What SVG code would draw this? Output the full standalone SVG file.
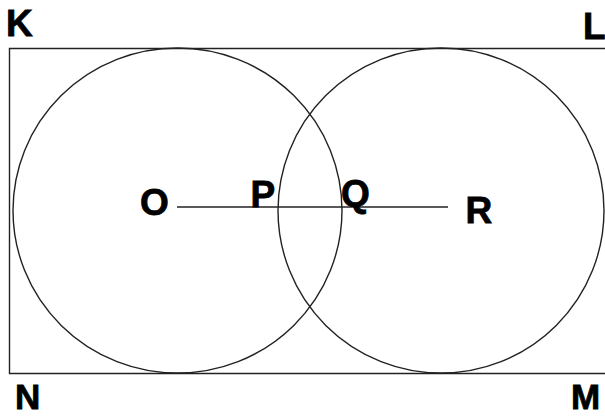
<svg xmlns="http://www.w3.org/2000/svg" width="605" height="416" viewBox="0 0 605 416">
<style>
.ln{fill:none;stroke:#222;stroke-width:1.4}
.lb{font-family:"Liberation Sans",Arial,sans-serif;font-weight:bold;font-size:37px;fill:#000;stroke:#000;stroke-width:0.8}
.sm{font-size:35px}
</style>
<rect width="605" height="416" fill="#fff"/>
<g id="rectangle">
<path class="ln" d="M610,48.5 H9.5 V373.5 H610"/>
</g>
<g id="circleO">
<ellipse class="ln" cx="177.5" cy="210.5" rx="164.5" ry="162.5"/>
</g>
<g id="circleR">
<ellipse class="ln" cx="441" cy="210.5" rx="163" ry="162.5"/>
</g>
<g id="connectors">
<line class="ln" x1="177" y1="207" x2="448" y2="207"/>
</g>
<g id="labels">
<text class="lb" x="6" y="35.5">K</text>
<text class="lb" x="583" y="38.5">L</text>
<text class="lb sm" x="15" y="409">N</text>
<text class="lb sm" x="571" y="409">M</text>
<text class="lb" x="140" y="214.5">O</text>
<text class="lb" x="250.5" y="206.5">P</text>
<text class="lb" x="341" y="205.5">Q</text>
<text class="lb" x="465.5" y="222.5">R</text>
</g>
</svg>
